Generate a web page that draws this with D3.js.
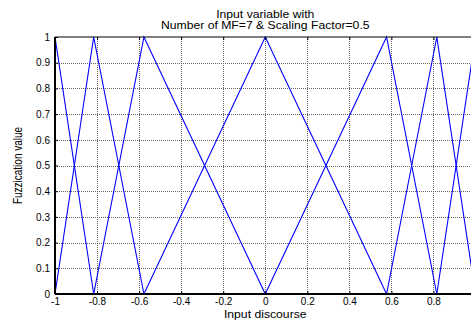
<!DOCTYPE html>
<html>
<head>
<meta charset="utf-8">
<script src="https://cdn.jsdelivr.net/npm/d3@7"></script>
<style>
  html, body { margin: 0; padding: 0; background: #fff; }
  svg { display: block; font-family: "Liberation Sans", Arial, sans-serif; }
</style>
</head>
<body>
<svg id="chart" width="471" height="320"></svg>
<script>
// Triangular membership-function peaks over the input discourse
const mfCenters = [-1, -0.816, -0.577, 0, 0.577, 0.816, 1];
const mfPeak = 1;
const mfFoot = 0;
const xTicks = [-1, -0.8, -0.6, -0.4, -0.2, 0, 0.2, 0.4, 0.6, 0.8];
const yTicks = [0, 0.1, 0.2, 0.3, 0.4, 0.5, 0.6, 0.7, 0.8, 0.9, 1];
const titleLines = ["Input variable with", "Number of MF=7 & Scaling Factor=0.5"];
const xLabel = "Input discourse";
const yLabel = "Fuzzication value";

const svg = d3.select("#chart");
const plot = { left: 55, right: 475.5, top: 37, bottom: 294 };

const x = d3.scaleLinear().domain([-1, 1]).range([plot.left, plot.right]);
const y = d3.scaleLinear().domain([0, 1]).range([plot.bottom, plot.top]);

// dotted grid
const grid = svg.append("g").attr("stroke", "#666").attr("stroke-width", 1)
  .attr("stroke-dasharray", "1,1").attr("shape-rendering", "crispEdges");
grid.selectAll("line.v").data(xTicks.slice(1)).join("line")
  .attr("x1", d => Math.round(x(d)) + 0.5).attr("x2", d => Math.round(x(d)) + 0.5)
  .attr("y1", plot.top).attr("y2", plot.bottom);
grid.selectAll("line.h").data(yTicks.slice(1, -1)).join("line")
  .attr("y1", d => Math.round(y(d)) + 0.5).attr("y2", d => Math.round(y(d)) + 0.5)
  .attr("x1", plot.left).attr("x2", plot.right);

// membership functions
const line = d3.line().x(d => x(d[0])).y(d => y(d[1]));
const mfs = mfCenters.map((c, i) => {
  const pts = [];
  if (i > 0) pts.push([mfCenters[i - 1], mfFoot]);
  pts.push([c, mfPeak]);
  if (i < mfCenters.length - 1) pts.push([mfCenters[i + 1], mfFoot]);
  return pts;
});
svg.append("g").selectAll("path").data(mfs).join("path")
  .attr("d", line).attr("fill", "none").attr("stroke", "#0000ff").attr("stroke-width", 1.1);

// axes frame
const fmt = d => String(+d.toFixed(1));
const gx = svg.append("g").attr("transform", `translate(0,${plot.bottom})`)
  .call(d3.axisBottom(x).tickValues(xTicks).tickSize(-3).tickPadding(4).tickFormat(fmt));
gx.select(".domain").attr("stroke-width", 2).attr("d", `M${plot.left},0H${plot.right}`);
gx.selectAll("text").attr("font-size", 10).attr("fill", "#000");

const gxt = svg.append("g").attr("transform", `translate(0,${plot.top})`)
  .call(d3.axisTop(x).tickValues(xTicks).tickSize(-3).tickFormat(""));
gxt.select(".domain").attr("d", `M${plot.left},0H${plot.right}`).attr("stroke-width", 1.2);

const gy = svg.append("g").attr("transform", `translate(${plot.left},0)`)
  .call(d3.axisLeft(y).tickValues(yTicks).tickSize(-3).tickPadding(5).tickFormat(fmt));
gy.select(".domain").attr("stroke-width", 2).attr("d", `M0,${plot.top}V${plot.bottom}`);
gy.selectAll("text").attr("font-size", 10).attr("fill", "#000");

// titles (set slightly wide)
const cx = (plot.left + plot.right) / 2;
svg.append("g").selectAll("text").data(titleLines).join("text")
  .attr("transform", (d, i) => `translate(${cx},${18 + i * 11}) scale(1.22,1)`)
  .attr("text-anchor", "middle").attr("font-size", 10).text(d => d);
svg.append("text").attr("transform", `translate(${cx},318) scale(1.22,1)`)
  .attr("text-anchor", "middle").attr("font-size", 10).text(xLabel);
svg.append("text")
  .attr("transform", `translate(22,${(plot.top + plot.bottom) / 2}) rotate(-90) scale(1,1.22)`)
  .attr("text-anchor", "middle").attr("font-size", 10).text(yLabel);
</script>
</body>
</html>
